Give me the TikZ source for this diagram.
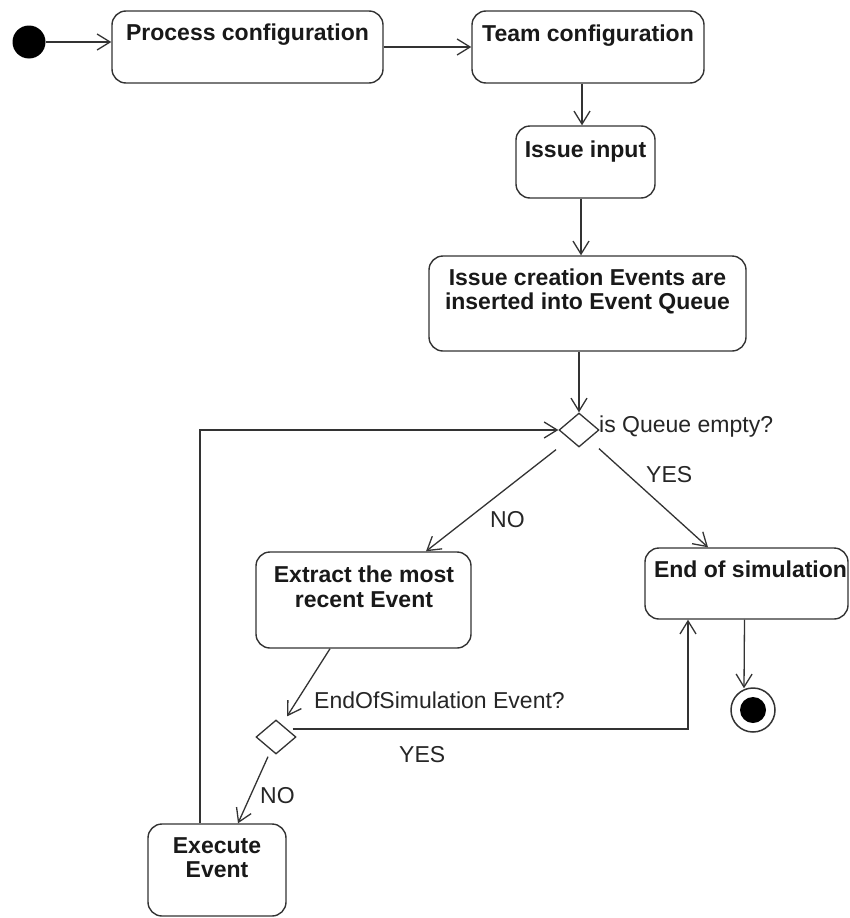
\documentclass[tikz,border=0pt]{standalone}
\usepackage{fontspec}
\setmainfont{Liberation Sans}
\usetikzlibrary{arrows.meta,shapes.geometric,calc}
\definecolor{ink}{HTML}{333333}
\begin{document}
\begin{tikzpicture}[x=1pt,y=-1pt,
  activity/.style={draw=ink, line width=1.4pt, rounded corners=14pt, inner sep=0pt},
  title/.style={anchor=base, inner sep=0pt, font=\fontsize{23}{24}\selectfont\bfseries, text=black!90},
  guard/.style={anchor=base west, inner sep=0pt, font=\fontsize{23}{24}\selectfont, text=black!85},
  branch/.style={draw=ink, line width=1.3pt, diamond, minimum width=40pt, minimum height=34pt, inner sep=0pt, fill=white},
  flow/.style={draw=ink, line width=1.3pt, -{Straight Barb[length=13pt,width=16pt]}},
]
\fill[white] (0,0) rectangle (850,918);
\useasboundingbox (0,0) rectangle (850,918);

% start and end markers
\node[circle, fill=black, minimum size=33pt, inner sep=0pt] (init) at (29,42) {};
\node[circle, draw=ink, line width=1.5pt, minimum size=44pt, inner sep=0pt] (fin) at (753,710) {};
\node[circle, fill=black, minimum size=26pt, inner sep=0pt] (fin-dot) at (fin) {};

% activities
\node[activity, minimum width=271pt, minimum height=72pt] (pc) at (247.5,47) {};
\node[title] (pc-t) at (247.5,40) {Process configuration};

\node[activity, minimum width=232pt, minimum height=72pt] (tc) at (588,47) {};
\node[title] (tc-t) at (588,41) {Team configuration};

\node[activity, minimum width=139pt, minimum height=72pt] (ii) at (585.5,162) {};
\node[title] (ii-t) at (585.5,157) {Issue input};

\node[activity, minimum width=317pt, minimum height=95pt] (ic) at (587.5,303.5) {};
\node[title] (ic-t1) at (587.5,285) {Issue creation Events are};
\node[title] (ic-t2) at (587.5,309) {inserted into Event Queue};

\node[activity, minimum width=215pt, minimum height=96pt] (ex) at (363.5,600) {};
\node[title] (ex-t1) at (364,582) {Extract the most};
\node[title] (ex-t2) at (364,607) {recent Event};

\node[activity, minimum width=203pt, minimum height=71pt] (es) at (746.5,583.5) {};
\node[title] (es-t) at (750.5,577) {End of simulation};

\node[activity, minimum width=138pt, minimum height=92pt] (ee) at (217,870) {};
\node[title] (ee-t1) at (217,853) {Execute};
\node[title] (ee-t2) at (217,877) {Event};

% decisions
\node[branch] (d1) at (579,430) {};
\node[branch] (d2) at (276,737) {};

% guards
\node[guard] (g1) at (599,432) {is Queue empty?};
\node[guard] (g-no1) at (490,527) {NO};
\node[guard] (g-yes1) at (646,482) {YES};
\node[guard] (g2) at (314,708) {EndOfSimulation Event?};
\node[guard] (g-yes2) at (399,762) {YES};
\node[guard] (g-no2) at (260,803) {NO};

% control flow
\draw[flow] (init) -- (init -| pc.west);
\draw[flow] (pc.east) -- (tc.west);
\draw[flow] ($(tc.south)+(-6,0)$) -- ($(ii.north)+(-3.5,0)$);
\draw[flow] ($(ii.south)+(-4.5,0)$) -- ($(ic.north)+(-6.5,0)$);
\draw[flow] (ic.south -| d1.north) -- (d1.north);
\draw[flow] ($(d1.south)+(-23,2)$) -- ($(ex.north)+(62.5,0)$);
\draw[flow] ($(d1.south)+(20,1)$) -- ($(es.north)+(-38.5,0)$);
\draw[flow] ($(ee.north)+(-17,0)$) |- (d1.west);
\draw[flow] ($(ex.south)+(-33.5,0)$) -- ($(d2.north)+(11,-3)$);
\draw[flow] ($(d2.east)+(-4,-8)$) -| ($(es.south)+(-58.5,0)$);
\draw[flow] ($(d2.south)+(-8,2)$) -- ($(ee.north)+(21,0)$);
\draw[flow] ($(es.south)+(-2,0)$) -- ($(fin.north)+(-9,1)$);
\end{tikzpicture}
\end{document}
